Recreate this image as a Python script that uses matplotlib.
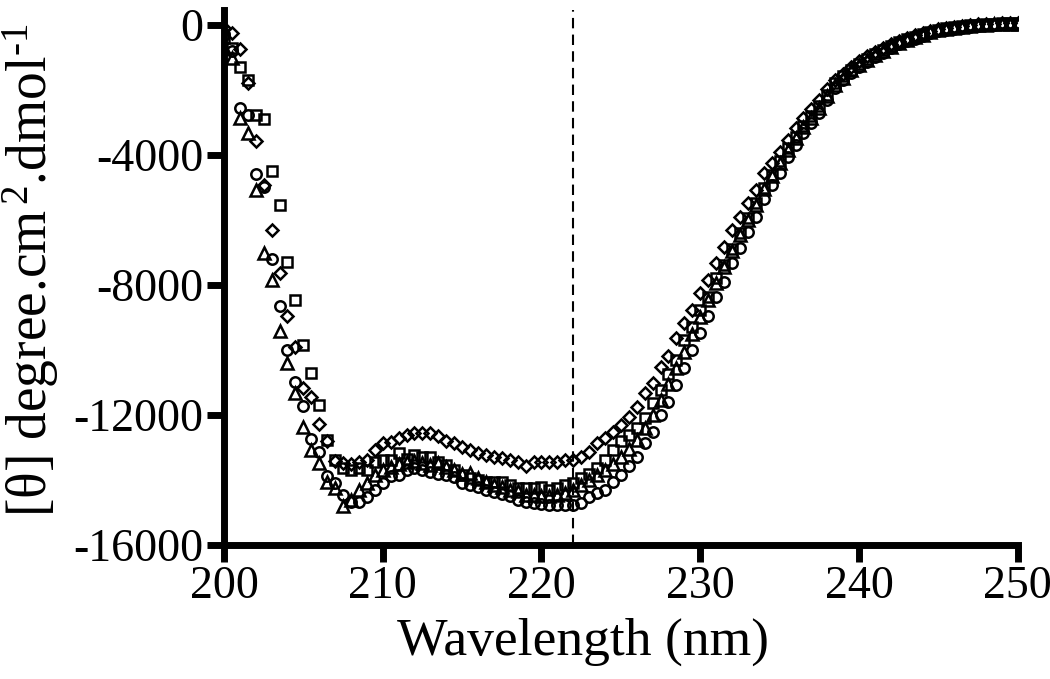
# cd_spectra.py
# CD spectra of four samples, 200-250 nm, open black markers

import numpy as np
import matplotlib
matplotlib.use("Agg")
import matplotlib.pyplot as plt

OUT_PNG = "out.png"

# wavelength grid (nm), 0.5 nm step
wavelength = np.arange(200, 250.5, 0.5)

circle = [
    -300, -800, -2550, -2770, -4590, -5000, -7200, -8650, -10000, -10980,
    -11730, -12750, -13130, -13880, -14100, -14460, -14670, -14680, -14510, -14300,
    -14100, -13880, -13840, -13700, -13640, -13690, -13750, -13800, -13850, -13920,
    -14080, -14140, -14220, -14300, -14380, -14440, -14500, -14600, -14670, -14700,
    -14730, -14760, -14760, -14780, -14760, -14700, -14520, -14400, -14300, -14050,
    -13860, -13570, -13280, -12870, -12510, -12000, -11590, -11080, -10560, -10000,
    -9470, -8950, -8380, -7920, -7330, -6850, -6360, -5900, -5360, -4920,
    -4540, -4070, -3690, -3330, -3020, -2720, -2300, -1950, -1700, -1480,
    -1300, -1150, -980, -850, -720, -600, -500, -420, -330, -260,
    -200, -150, -110, -80, -50, -30, -10, 10, 20, 20,
    30,
]

triangle = [
    -700, -1015, -2860, -3320, -5080, -7025, -7850, -9415, -10400, -11330,
    -12360, -13080, -13490, -14050, -14250, -14800, -14600, -14300, -14100, -13850,
    -13700, -13600, -13500, -13440, -13400, -13480, -13540, -13490, -13600, -13700,
    -13800, -13780, -13950, -14050, -14150, -14200, -14300, -14350, -14460, -14460,
    -14500, -14500, -14460, -14400, -14300, -14150, -14000, -13850, -13700, -13500,
    -13300, -13050, -12780, -12400, -12000, -11550, -11050, -10550, -10050, -9500,
    -8980, -8450, -7950, -7450, -6950, -6450, -6000, -5550, -5050, -4650,
    -4250, -3850, -3480, -3150, -2850, -2550, -2200, -1850, -1620, -1400,
    -1230, -1080, -920, -790, -670, -560, -460, -380, -300, -230,
    -170, -120, -80, -50, -30, -10, 10, 20, 30, 30,
    40,
]

square = [
    -400, -700, -1300, -1690, -2770, -2890, -4490, -5550, -7280, -8460,
    -9850, -10700, -11690, -12780, -13390, -13640, -13700, -13620, -13680, -13440,
    -13380, -13380, -13180, -13350, -13230, -13300, -13280, -13440, -13540, -13700,
    -13850, -13950, -14000, -14050, -14050, -14050, -14150, -14250, -14260, -14250,
    -14200, -14300, -14250, -14150, -14080, -13950, -13800, -13620, -13380, -13080,
    -12800, -12600, -12400, -12100, -11640, -11230, -10740, -10300, -9690, -9280,
    -8770, -8360, -7800, -7380, -6900, -6400, -5950, -5480, -5030, -4620,
    -4200, -3800, -3440, -3100, -2800, -2500, -2150, -1800, -1580, -1380,
    -1200, -1050, -890, -760, -640, -530, -440, -360, -280, -210,
    -150, -100, -60, -30, -10, 10, 20, 40, 50, 60,
    60,
]

diamond = [
    -100, -240, -750, -1800, -3570, -4920, -6310, -7620, -8950, -9910,
    -11170, -11440, -12290, -12800, -13400, -13480, -13500, -13440, -13380, -13080,
    -12870, -12820, -12720, -12620, -12560, -12560, -12540, -12660, -12790, -12870,
    -12990, -13080, -13160, -13230, -13280, -13330, -13380, -13440, -13570, -13440,
    -13440, -13440, -13440, -13380, -13380, -13280, -13130, -12870, -12720, -12510,
    -12300, -12050, -11740, -11330, -11030, -10510, -10180, -9640, -9180, -8770,
    -8260, -7850, -7330, -6820, -6310, -5900, -5490, -5080, -4560, -4250,
    -3900, -3540, -3180, -2870, -2580, -2300, -1980, -1700, -1500, -1300,
    -1120, -970, -830, -700, -590, -490, -400, -320, -250, -190,
    -140, -100, -60, -30, 0, 20, 30, 40, 50, 50,
    60,
]

yticks = [0, -4000, -8000, -12000, -16000]
xticks = [200, 210, 220, 230, 240, 250]

plt.rcParams["font.family"] = ["Liberation Serif", "DejaVu Serif"]
plt.rcParams["mathtext.fontset"] = "custom"
plt.rcParams["mathtext.rm"] = "Liberation Serif"
plt.rcParams["mathtext.it"] = "Liberation Serif:italic"
plt.rcParams["axes.unicode_minus"] = False

fig = plt.figure(figsize=(10.5, 6.79), dpi=100)
ax = fig.add_axes([0.2133, 0.1973, 0.756, 0.788])

mk = dict(ls="none", color="k", mfc="none", mew=1.8)
ax.plot(wavelength, circle, marker="o", ms=7.5, **mk)
ax.plot(wavelength, triangle, marker="^", ms=8, **mk)
ax.plot(wavelength, square, marker="s", ms=7, **mk)
ax.plot(wavelength, diamond, marker="D", ms=6.5, **mk)

ax.axvline(222, color="k", ls=(0, (5, 3)), lw=1.5)

ax.set_xlim(200, 250)
ax.set_ylim(-16000, 460)
ax.set_xticks(xticks)
ax.set_yticks(yticks)
ax.set_yticklabels([str(t) for t in yticks])

for s in ["top", "right"]:
    ax.spines[s].set_visible(False)
for s in ["left", "bottom"]:
    ax.spines[s].set_linewidth(5)
ax.tick_params(axis="both", direction="out", length=12, width=5,
               labelsize=33, pad=3)

ax.set_xlabel("Wavelength (nm)", fontsize=38.5)
ax.set_ylabel("[\u03b8] degree.cm$^{\\,\\text{2}}$.dmol$^{\\text{-1}}$", fontsize=40)
ax.xaxis.set_label_coords(0.452, -0.135)
ax.yaxis.set_label_coords(-0.205, 0.514)

fig.savefig(OUT_PNG, dpi=100)
plt.close(fig)
